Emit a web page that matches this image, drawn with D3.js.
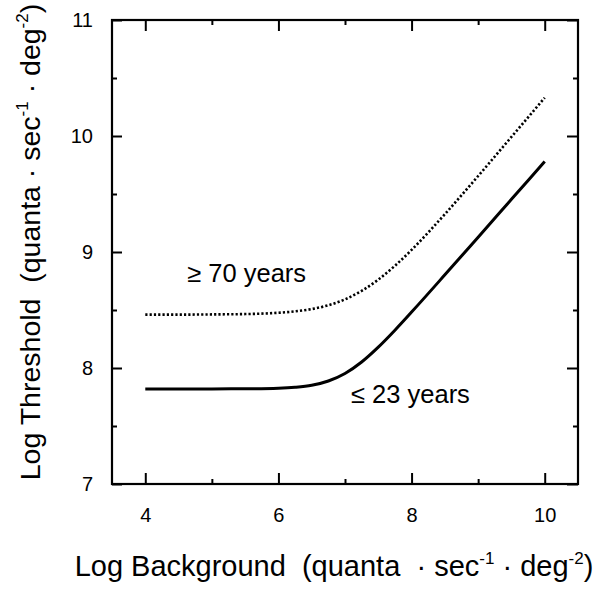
<!DOCTYPE html>
<html><head><meta charset="utf-8">
<script src="https://cdn.jsdelivr.net/npm/d3@7"></script>
<style>
body{margin:0;background:#fff;}
svg{display:block;font-family:"Liberation Sans",Arial,Helvetica,sans-serif;}
text{white-space:pre;}
</style></head>
<body><svg id="c" width="603" height="593"></svg>
<script>
// Data
const youngX = [4, 4.5, 5, 5.5, 6, 6.25, 6.5, 6.75, 7, 7.25, 7.5, 7.75, 8, 8.5, 9, 9.5, 10];
const youngY = [7.82, 7.82, 7.82, 7.821, 7.826, 7.834, 7.851, 7.888, 7.953, 8.052, 8.18, 8.326, 8.482, 8.803, 9.128, 9.454, 9.78];
const oldX = [4, 4.5, 5, 5.5, 6, 6.25, 6.5, 6.75, 7, 7.25, 7.5, 7.75, 8, 8.5, 9, 9.5, 10];
const oldY = [8.46, 8.46, 8.462, 8.465, 8.476, 8.488, 8.508, 8.541, 8.592, 8.665, 8.762, 8.881, 9.018, 9.326, 9.655, 9.992, 10.33];
const xMajor = [4, 6, 8, 10];
const xMinor = [5, 7, 9];
const yMajor = [7, 8, 9, 10, 11];
const yMinor = [7.5, 8.5, 9.5, 10.5];
const labels = [{text: "\u2265 70 years", x: 4.63, y: 8.744}, {text: "\u2264 23 years", x: 7.09, y: 7.698}];

const svg = d3.select("#c");
const L = 112, R = 578, T = 20, B = 484;
const x = d3.scaleLinear().domain([3.5, 10.5]).range([L, R]);
const y = d3.scaleLinear().domain([7, 11]).range([B, T]);

function styleAxis(g){
  g.select(".domain").remove();
  g.selectAll(".tick line").attr("stroke","#000").attr("stroke-width",2);
  g.selectAll(".tick text").attr("font-size",20).attr("fill","#000").attr("font-family","Liberation Sans, Arial, sans-serif");
}
// bottom
svg.append("g").attr("transform",`translate(0,${B})`)
  .call(d3.axisBottom(x).tickValues(xMajor).tickSize(-11).tickPadding(24).tickFormat(d3.format("d"))).call(styleAxis);
svg.append("g").attr("transform",`translate(0,${B})`)
  .call(d3.axisBottom(x).tickValues(xMinor).tickSize(-5).tickFormat("")).call(styleAxis);
// top
svg.append("g").attr("transform",`translate(0,${T})`)
  .call(d3.axisTop(x).tickValues(xMajor).tickSize(-11).tickFormat("")).call(styleAxis);
svg.append("g").attr("transform",`translate(0,${T})`)
  .call(d3.axisTop(x).tickValues(xMinor).tickSize(-5).tickFormat("")).call(styleAxis);
// left
svg.append("g").attr("transform",`translate(${L},0)`)
  .call(d3.axisLeft(y).tickValues(yMajor).tickSize(-10).tickPadding(19).tickFormat(d3.format("d"))).call(styleAxis);
svg.append("g").attr("transform",`translate(${L},0)`)
  .call(d3.axisLeft(y).tickValues(yMinor).tickSize(-5).tickFormat("")).call(styleAxis);
// right
svg.append("g").attr("transform",`translate(${R},0)`)
  .call(d3.axisRight(y).tickValues(yMajor).tickSize(-11).tickFormat("")).call(styleAxis);
svg.append("g").attr("transform",`translate(${R},0)`)
  .call(d3.axisRight(y).tickValues(yMinor).tickSize(-5).tickFormat("")).call(styleAxis);

// frame
svg.append("rect").attr("x",L).attr("y",T).attr("width",R-L).attr("height",B-T)
  .attr("fill","none").attr("stroke","#000").attr("stroke-width",2.2);

const line = d3.line().x(d=>x(d[0])).y(d=>y(d[1])).curve(d3.curveMonotoneX);
svg.append("path").datum(youngX.map((v,i)=>[v,youngY[i]]))
  .attr("d",line).attr("fill","none").attr("stroke","#000").attr("stroke-width",3);
svg.append("path").datum(oldX.map((v,i)=>[v,oldY[i]]))
  .attr("d",line).attr("fill","none").attr("stroke","#000").attr("stroke-width",2.6)
  .attr("stroke-dasharray","2.2,2.1");

svg.selectAll("text.lab").data(labels).enter().append("text").attr("class","lab")
  .attr("x",d=>x(d.x)).attr("y",d=>y(d.y)).attr("font-size",25.5).text(d=>d.text);

// axis titles
const xt = svg.append("text").attr("x",334).attr("y",576).attr("text-anchor","middle").attr("font-size",29);
xt.append("tspan").text("Log Background  (quanta  \u00b7 sec");
xt.append("tspan").attr("font-size",17).attr("dy",-12).text("-1");
xt.append("tspan").attr("dy",12).text(" \u00b7 deg");
xt.append("tspan").attr("font-size",17).attr("dy",-12).text("-2");
xt.append("tspan").attr("dy",12).text(")");

const yt = svg.append("text").attr("transform","translate(40,242) rotate(-90)").attr("text-anchor","middle").attr("font-size",28.5);
yt.append("tspan").text("Log Threshold  (quanta \u00b7 sec");
yt.append("tspan").attr("font-size",17).attr("dy",-12).text("-1");
yt.append("tspan").attr("dy",12).text(" \u00b7 deg");
yt.append("tspan").attr("font-size",17).attr("dy",-12).text("-2");
yt.append("tspan").attr("dy",12).text(")");
</script></body></html>
